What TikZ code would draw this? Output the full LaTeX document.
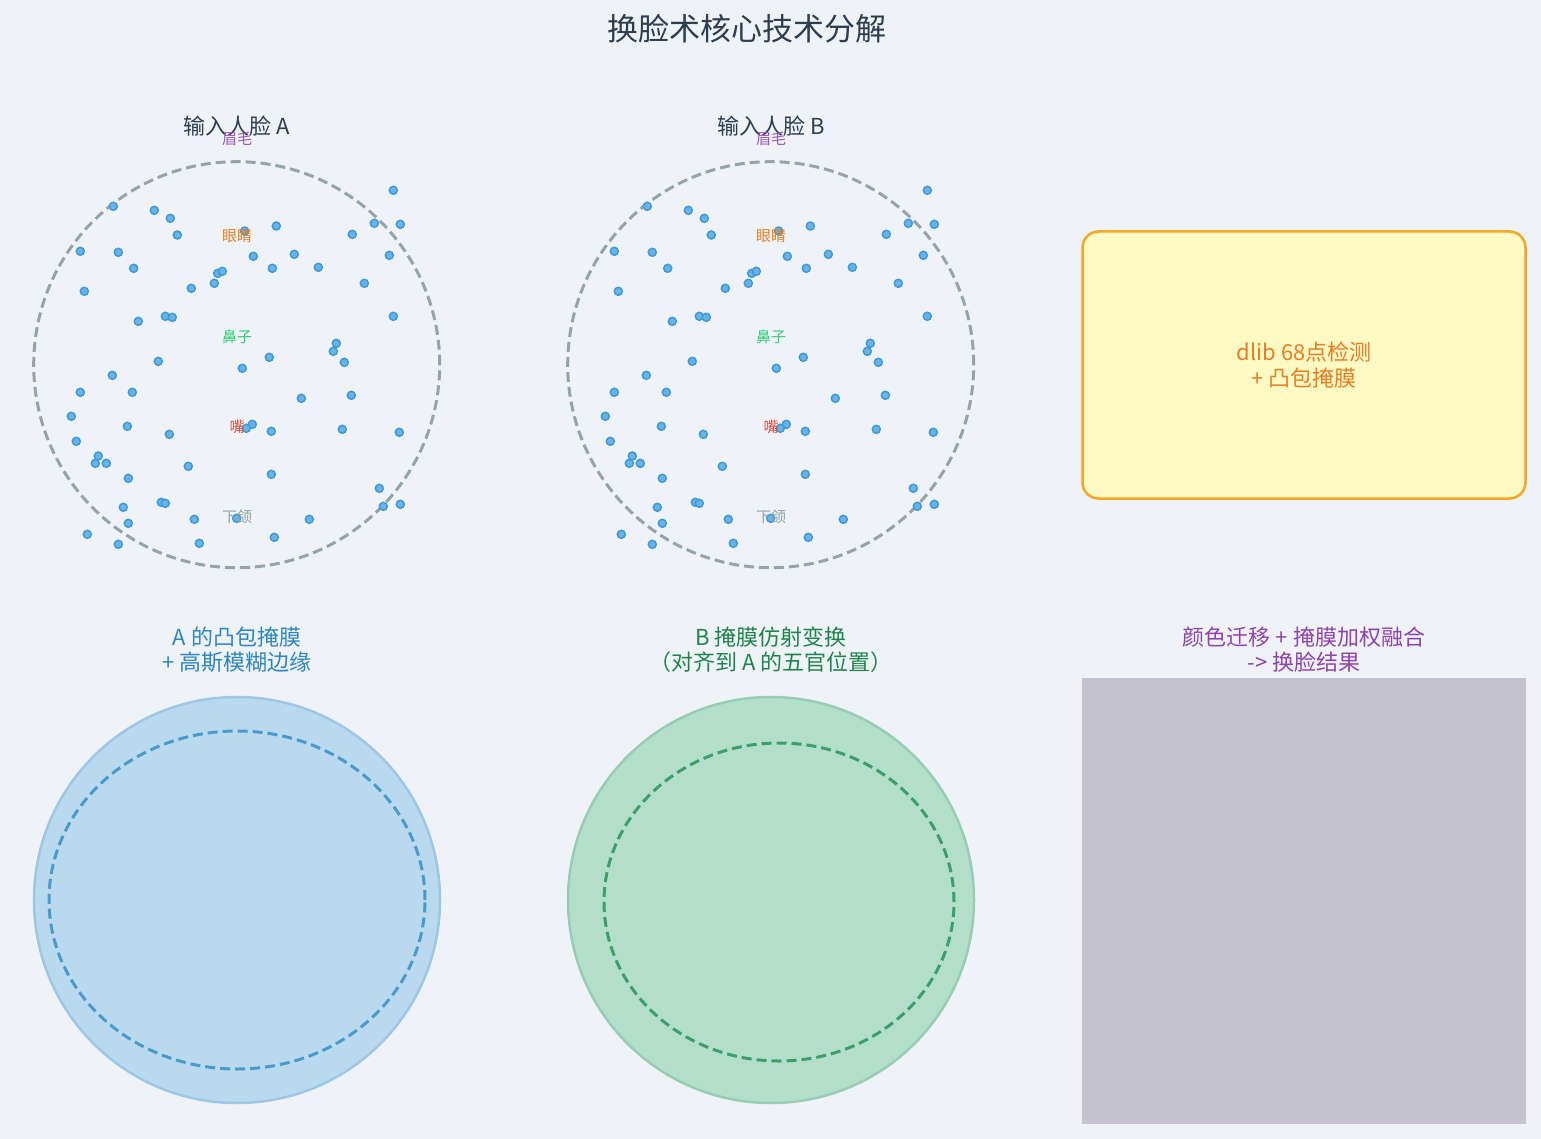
\documentclass[tikz,border=0pt]{standalone}
\usepackage{fontspec}
\setmainfont{Noto Sans CJK SC}
\definecolor{bg}{HTML}{EFF3F8}
\definecolor{titlec}{HTML}{2C3E50}
\definecolor{dotfill}{HTML}{6BB3E5}
\definecolor{dotedge}{HTML}{3D9BDB}
\definecolor{facec}{HTML}{95A5A6}
\definecolor{browc}{HTML}{9B59B6}
\definecolor{eyec}{HTML}{E67E22}
\definecolor{nosec}{HTML}{2ECC71}
\definecolor{mouthc}{HTML}{E74C3C}
\definecolor{jawc}{HTML}{95A5A6}
\definecolor{boxfill}{HTML}{FFF9C4}
\definecolor{boxedge}{HTML}{F5A623}
\definecolor{boxtext}{HTML}{E67E22}
\definecolor{bluefill}{HTML}{B9D9EF}
\definecolor{blueedge}{HTML}{9EC7E5}
\definecolor{bluedash}{HTML}{4A9ACD}
\definecolor{bluetext}{HTML}{2E86C1}
\definecolor{greenfill}{HTML}{B3DFCA}
\definecolor{greenedge}{HTML}{98CDB3}
\definecolor{greendash}{HTML}{3C9F6A}
\definecolor{greentext}{HTML}{1E8449}
\definecolor{graybox}{HTML}{C4C3CF}
\definecolor{purpletext}{HTML}{8E44AD}
\tikzset{
  landmark/.style={circle, inner sep=0pt, minimum size=8pt, fill=dotfill, draw=dotedge, line width=1.5pt},
  faceoutline/.style={circle, draw=facec, line width=3pt, dash pattern=on 10pt off 5pt, minimum size=406pt, inner sep=0pt},
  partlabel/.style={font=\fontsize{15}{17}\selectfont, inner sep=0pt},
  heading/.style={font=\fontsize{22}{25}\selectfont, align=center, inner sep=0pt},
}
\begin{document}
\begin{tikzpicture}[x=1pt,y=-1pt]
\useasboundingbox (0,0) rectangle (1541,1139);
\fill[bg] (0,0) rectangle (1541,1139);
\node[font=\fontsize{31}{35}\selectfont, text=titlec] (title) at (747,29) {换脸术核心技术分解};

\foreach \ox/\lab/\nm in {0/A/fa, 534/B/fb} {
  \begin{scope}[xshift=\ox pt]
    \node[faceoutline] (\nm-outline) at (236.7,364.7) {};
    \foreach \px/\py [count=\i] in {
      393.3/190.3, 113.3/206.3, 154.3/210.3, 170.3/218.3, 374.3/223.3, 400.3/224.3,
      276.3/226, 177.3/235, 244.7/231, 352.3/234.3, 80.3/251.3, 118.3/252.3,
      253.3/256.3, 294.3/254.3, 389.3/255.3, 133.7/268.3, 272.3/268.3, 318.3/267.3,
      217.7/273.3, 222.3/271.3, 214.3/283.3, 191.3/288.3, 364.3/283.3, 84.3/291.3,
      393.3/316.3, 138.3/321.3, 165.3/316.3, 172.3/317.3,
      336.3/343.3, 333.3/351.3, 269.3/357.3, 158.3/361.3, 344.3/362.3, 242.3/368.3,
      112.3/375.3, 80.3/392.3, 132.3/392.3, 301.3/398.3, 351.3/395.3, 71.3/416.3,
      127.3/426.3, 169.3/434.3, 252.3/424.3, 246.3/428.3, 271.3/431.3, 342.3/429.3,
      399.3/432.3, 76.3/441.3, 98.3/456, 95.3/463.3, 106.3/463.3, 188.3/466.3,
      128.3/478.3, 271.3/474.3, 379.3/488.3, 123.3/507.3, 161.3/502.3, 165.3/503.3,
      383.3/506.3, 400.3/504.3, 128.3/523.3, 194.3/519.3, 236.7/518.3, 309.3/519.3,
      87.3/534.3, 118.3/544.3, 199.3/543.3, 274.3/537.3} {
      \node[landmark] (\nm-p\i) at (\px,\py) {};
    }
    \node[heading, text=titlec] (\nm-title) at (237,126) {输入人脸 \lab};
    \node[partlabel, text=browc] (\nm-brow) at (237,139) {眉毛};
    \node[partlabel, text=eyec] (\nm-eye) at (237,236) {眼睛};
    \node[partlabel, text=nosec] (\nm-nose) at (237,337) {鼻子};
    \node[partlabel, text=mouthc] (\nm-mouth) at (237,427) {嘴};
    \node[partlabel, text=jawc] (\nm-jaw) at (237,517) {下颌};
  \end{scope}
}

% dlib box
\node[draw=boxedge, fill=boxfill, line width=2.5pt, rounded corners=16pt,
      minimum width=443pt, minimum height=267pt, inner sep=0pt,
      align=center, text=boxtext, font=\fontsize{22}{26}\selectfont] (dlib) at (1304,365)
      {dlib 68点检测\\+ 凸包掩膜};

% bottom left: blurred mask
\node[circle, fill=bluefill, draw=blueedge, line width=2.5pt, minimum size=406pt, inner sep=0pt] (maskA) at (237,900) {};
\draw[bluedash, line width=3pt, dash pattern=on 10pt off 5pt] (237,900) ellipse [x radius=188pt, y radius=169pt];
\node[heading, text=bluetext] (maskA-t) at (237,650) {A 的凸包掩膜\\+ 高斯模糊边缘};

% bottom middle: warped mask
\node[circle, fill=greenfill, draw=greenedge, line width=2.5pt, minimum size=406pt, inner sep=0pt] (maskB) at (771,900) {};
\draw[greendash, line width=3pt, dash pattern=on 10pt off 5pt] (779,902) ellipse [x radius=175pt, y radius=159pt];
\node[heading, text=greentext] (maskB-t) at (771,650) {B 掩膜仿射变换\\（对齐到 A 的五官位置）};

% bottom right: result
\node[fill=graybox, minimum width=444pt, minimum height=446pt, inner sep=0pt] (result) at (1304,901) {};
\node[heading, text=purpletext] (result-t) at (1304,650) {颜色迁移 + 掩膜加权融合\\-> 换脸结果};
\end{tikzpicture}
\end{document}
